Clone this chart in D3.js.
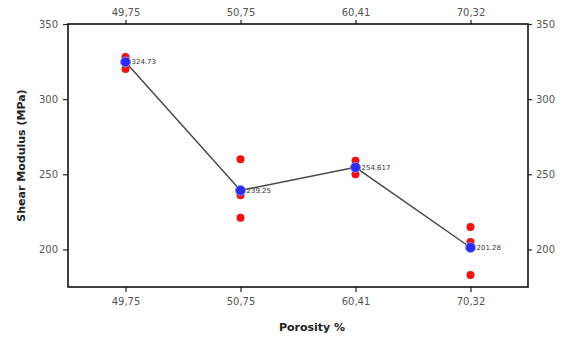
<!DOCTYPE html>
<html><head><meta charset="utf-8">
<script src="https://cdn.jsdelivr.net/npm/d3@7"></script>
<style>body{margin:0;background:#fff}svg{display:block}</style>
</head><body>
<svg id="c" width="562" height="337"></svg>
<script>
const categories = ["49,75", "50,75", "60,41", "70,32"];
const meanValues = [324.73, 239.25, 254.617, 201.28];
const meanLabels = ["324.73", "239.25", "254.617", "201.28"];
const rep1 = [328, 260, 259, 215];
const rep2 = [326, 236, 255, 205];
const rep3 = [320, 221, 250, 183];
const yTicks = [200, 250, 300, 350];

const svg = d3.select("#c");
const m = {l: 68, r: 34, t: 24, b: 50};
const W = 562, H = 337;
const x = d3.scalePoint().domain(categories).range([m.l, W - m.r]).padding(0.5);
const y = d3.scaleLinear().domain([175, 350]).range([H - m.b, m.t]);

const font = "DejaVu Sans, Verdana, sans-serif";
function styleAxis(g) {
  g.select(".domain").remove();
  g.selectAll("line").attr("stroke", "#222").attr("stroke-width", 1.2);
  g.selectAll("text").attr("font-family", font).attr("font-size", 10).attr("fill", "#555");
}
svg.append("g").attr("transform", `translate(0,${H - m.b})`)
  .call(d3.axisBottom(x).tickSize(5).tickPadding(6)).call(styleAxis);
svg.append("g").attr("transform", `translate(0,${m.t})`)
  .call(d3.axisTop(x).tickSize(4).tickPadding(4)).call(styleAxis);
svg.append("g").attr("transform", `translate(${m.l},0)`)
  .call(d3.axisLeft(y).tickValues(yTicks).tickSize(5).tickPadding(5)).call(styleAxis);
svg.append("g").attr("transform", `translate(${W - m.r},0)`)
  .call(d3.axisRight(y).tickValues(yTicks).tickSize(4).tickPadding(4)).call(styleAxis);

svg.append("rect").attr("x", m.l).attr("y", m.t)
  .attr("width", W - m.l - m.r).attr("height", H - m.t - m.b)
  .attr("fill", "none").attr("stroke", "#111").attr("stroke-width", 1.6);

const reps = [rep1, rep2, rep3];
reps.forEach(r => {
  svg.append("g").selectAll("circle").data(r).join("circle")
    .attr("cx", (d, i) => x(categories[i])).attr("cy", d => y(d))
    .attr("r", 4).attr("fill", "#f01010");
});

const line = d3.line().x((d, i) => x(categories[i])).y(d => y(d));
svg.append("path").datum(meanValues).attr("d", line)
  .attr("fill", "none").attr("stroke", "#444").attr("stroke-width", 1.4);

svg.append("g").selectAll("circle").data(meanValues).join("circle")
  .attr("cx", (d, i) => x(categories[i])).attr("cy", d => y(d))
  .attr("r", 5).attr("fill", "#2a2af0").attr("stroke", "#8f8ff5").attr("stroke-width", 1);

svg.append("g").selectAll("text").data(meanValues).join("text")
  .attr("x", (d, i) => x(categories[i]) + 6).attr("y", d => y(d) + 2.5)
  .attr("font-family", font).attr("font-size", 7).attr("fill", "#333")
  .text((d, i) => meanLabels[i]);

svg.append("text").attr("x", 312).attr("y", 331).attr("text-anchor", "middle")
  .attr("font-family", font).attr("font-size", 11).attr("font-weight", "bold").attr("fill", "#222")
  .text("Porosity %");
svg.append("text").attr("transform", `translate(25,${(m.t + H - m.b) / 2}) rotate(-90)`)
  .attr("text-anchor", "middle")
  .attr("font-family", font).attr("font-size", 11).attr("font-weight", "bold").attr("fill", "#222")
  .text("Shear Modulus (MPa)");
</script>
</body></html>
